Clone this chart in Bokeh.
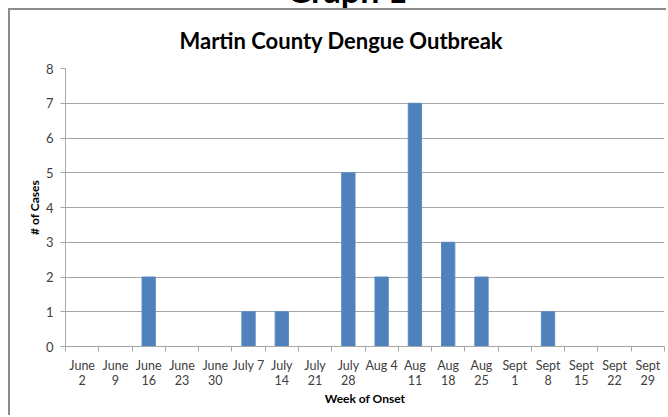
import numpy as np
from bokeh.plotting import figure
from bokeh.models import Range1d, FixedTicker, Div, ColumnDataSource
from bokeh.layouts import column
from bokeh.embed import file_html
from bokeh.resources import INLINE

weeks = ["June\n2", "June\n9", "June\n16", "June\n23", "June\n30", "July 7",
         "July\n14", "July\n21", "July\n28", "Aug 4", "Aug\n11", "Aug\n18",
         "Aug\n25", "Sept\n1", "Sept\n8", "Sept\n15", "Sept\n22", "Sept\n29"]
cases = [0, 0, 2, 0, 0, 1, 1, 0, 5, 2, 7, 3, 2, 0, 1, 0, 0, 0]
y_ticks = [0, 1, 2, 3, 4, 5, 6, 7, 8]

FONT = "Lato"
n = len(weeks)
centers = [i + 0.5 for i in range(n)]
src = ColumnDataSource(dict(x=centers, top=cases))

p = figure(width=658, height=407, output_backend="svg", toolbar_location=None,
           x_range=Range1d(0, n), y_range=Range1d(0, 8),
           title="Martin County Dengue Outbreak",
           min_border_left=55, min_border_right=4, min_border_top=55, min_border_bottom=71,
           margin=0,
           styles={"margin-left": "8px", "border-left": "2px solid #8c8c8c",
                   "border-top": "2px solid #8c8c8c"})
p.outline_line_color = None
p.background_fill_color = "white"
p.border_fill_color = "white"

p.title.align = "left"
p.title.offset = 114
p.title.text_font = FONT
p.title.text_font_style = "bold"
p.title.text_font_size = "22px"
p.title.text_color = "#000000"
p.title.standoff = 29

p.vbar(x="x", top="top", width=0.4, source=src, fill_color="#4F81BD", line_color="#5a8ac6", line_width=1)

# x axis
xa = p.xaxis[0]
xa.ticker = FixedTicker(ticks=centers, minor_ticks=list(range(n + 1)))
xa.major_label_overrides = {c: w for c, w in zip(centers, weeks)}
xa.major_tick_line_color = None
xa.major_tick_out = 0
xa.major_tick_in = 0
xa.minor_tick_line_color = "#a6a6a6"
xa.minor_tick_out = 5
xa.minor_tick_in = 0
xa.axis_line_color = "#a6a6a6"
xa.major_label_text_font = FONT
xa.major_label_text_font_size = "12.5px"
xa.major_label_text_line_height = 1.0
xa.major_label_text_color = "#404040"
xa.major_label_standoff = 6
xa.axis_label = "Week of Onset"
xa.axis_label_text_font = FONT
xa.axis_label_text_font_style = "bold"
xa.axis_label_text_font_size = "12px"
xa.axis_label_text_color = "#000000"
xa.axis_label_standoff = 0

ya = p.yaxis[0]
ya.ticker = FixedTicker(ticks=y_ticks)
ya.axis_line_color = "#a6a6a6"
ya.major_tick_line_color = "#a6a6a6"
ya.major_tick_out = 5
ya.major_tick_in = 0
ya.minor_tick_line_color = None
ya.major_label_text_font = FONT
ya.major_label_text_font_size = "13px"
ya.major_label_text_color = "#404040"
ya.major_label_standoff = 7
ya.axis_label = "# of Cases"
ya.axis_label_text_font = FONT
ya.axis_label_text_font_style = "bold"
ya.axis_label_text_font_size = "12px"
ya.axis_label_text_color = "#000000"
ya.axis_label_standoff = 1

p.xgrid.grid_line_color = None
p.ygrid.grid_line_color = "#a6a6a6"

top = Div(text=('<div style="position:relative;top:-28px;width:694px;text-align:center;'
                'font-family:Lato;font-weight:bold;font-size:34px;line-height:36px;color:#000;'
                'white-space:nowrap;">Graph 1</div>'),
          width=668, height=8, margin=0)

layout = column(top, p, spacing=0)
open("out.html", "w").write(file_html(layout, INLINE))
